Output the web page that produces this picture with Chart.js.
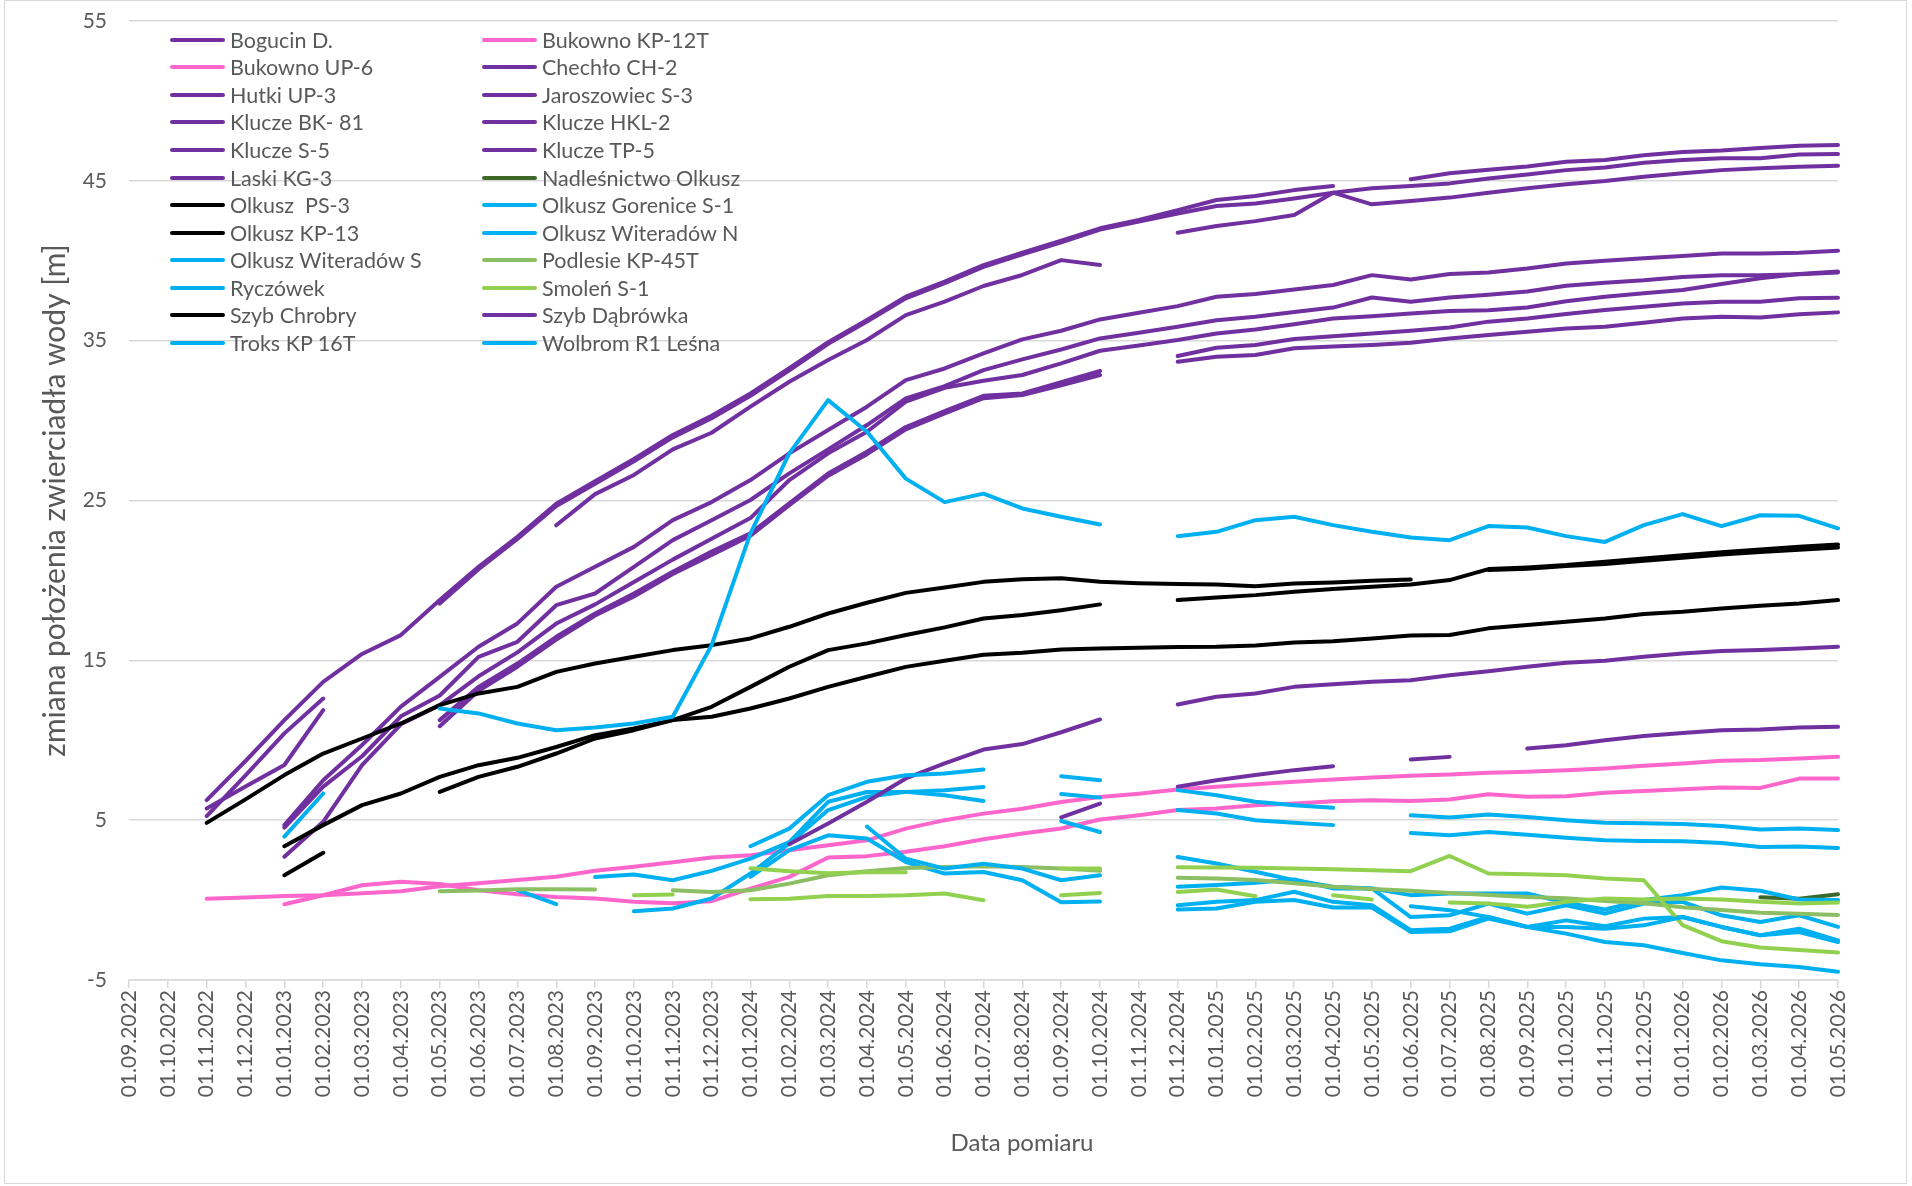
<!DOCTYPE html>
<html lang="pl">
<head>
<meta charset="utf-8">
<title>Zmiana położenia zwierciadła wody</title>
<script src="https://cdn.jsdelivr.net/npm/chart.js@4.4.1/dist/chart.umd.min.js"></script>
<style>
    html, body { margin: 0; padding: 0; background: #fff; }
    #wrap { position: relative; width: 1912px; height: 1186px; font-family: Lato, "Noto Sans", sans-serif; color: #595959; }
    #frame { position: absolute; left: 4px; top: 0; width: 1901px; height: 1182px; border: 1px solid #D9D9D9; pointer-events: none; }
    #legend { position: absolute; left: 170px; top: 26px; display: grid; grid-template-columns: 312px 330px; grid-auto-rows: 27.57px; font-size: 21.5px; }
    .item { display: flex; align-items: center; white-space: pre; }
    .swatch { width: 55px; height: 4px; border-radius: 2px; margin-right: 5px; flex: none; }
    #xtitle { position: absolute; left: 0; width: 2044px; top: 1127px; text-align: center; font-size: 24px; }
</style>
</head>
<body>
<div id="wrap">
    <canvas id="chart" width="1912" height="1186"></canvas>
    <div id="legend"></div>
    <div id="xtitle">Data pomiaru</div>
    <div id="frame"></div>
</div>
<script>
const _ = null; // month without a measurement

const months = [
    "01.09.2022", "01.10.2022", "01.11.2022", "01.12.2022", "01.01.2023", "01.02.2023", "01.03.2023", "01.04.2023",
    "01.05.2023", "01.06.2023", "01.07.2023", "01.08.2023", "01.09.2023", "01.10.2023", "01.11.2023", "01.12.2023",
    "01.01.2024", "01.02.2024", "01.03.2024", "01.04.2024", "01.05.2024", "01.06.2024", "01.07.2024", "01.08.2024",
    "01.09.2024", "01.10.2024", "01.11.2024", "01.12.2024", "01.01.2025", "01.02.2025", "01.03.2025", "01.04.2025",
    "01.05.2025", "01.06.2025", "01.07.2025", "01.08.2025", "01.09.2025", "01.10.2025", "01.11.2025", "01.12.2025",
    "01.01.2026", "01.02.2026", "01.03.2026", "01.04.2026", "01.05.2026"
];

const yTicks = [-5, 5, 15, 25, 35, 45, 55];

// purple wells
const bogucin = [_, _, 6.25, 8.7, 11.26, 13.65, 15.4, 16.58, 18.77, 20.85, 22.73, 24.8, 26.2, 27.6, 29.1, 30.3, 31.7, 33.28, 34.9, 36.3, 37.75, 38.7, 39.73, 40.5, 41.25, 42.03, 42.55, 43.17, 43.8, 44.05, 44.42, 44.67, _, 45.1, 45.47, 45.7, 45.9, 46.2, 46.3, 46.6, 46.8, 46.9, 47.06, 47.2, 47.24];
const chechlo = [_, _, 5.25, 7.8, 10.43, 12.61, _, _, 18.55, 20.7, 22.6, 24.65, 26.05, 27.45, 28.95, 30.15, 31.55, 33.15, 34.8, 36.2, 37.65, 38.6, 39.62, 40.4, 41.15, 41.95, 42.45, 42.96, 43.42, 43.58, 43.9, 44.26, 44.53, 44.67, 44.84, 45.15, 45.4, 45.67, 45.84, 46.13, 46.3, 46.42, 46.42, 46.65, 46.68];
const hutki = [_, _, 5.73, 7.1, 8.45, 11.88, _, _, _, _, _, 23.45, 25.4, 26.6, 28.2, 29.24, 30.87, 32.43, 33.79, 35.04, 36.6, 37.44, 38.42, 39.11, 40.04, 39.73, _, 41.75, 42.17, 42.48, 42.86, 44.26, 43.53, 43.74, 43.95, 44.26, 44.53, 44.78, 44.99, 45.26, 45.47, 45.67, 45.78, 45.88, 45.95];
const jaroszowiec = [_, _, _, _, 4.69, 7.5, 9.7, 12.1, 13.97, 15.85, 17.31, 19.6, 20.85, 22.1, 23.77, 24.9, 26.28, 27.95, 29.41, 30.87, 32.53, 33.26, 34.2, 35.08, 35.62, 36.33, 36.75, 37.16, 37.75, 37.92, 38.2, 38.48, 39.1, 38.83, 39.17, 39.27, 39.52, 39.83, 40.0, 40.15, 40.3, 40.46, 40.46, 40.5, 40.63];
const kluczeBK81 = [_, _, _, _, 4.54, 7.1, 9.0, 11.5, 12.8, 15.22, 16.16, 18.45, 19.18, 20.85, 22.52, 23.77, 25.03, 26.7, 28.2, 29.72, 31.39, 32.16, 33.16, 33.83, 34.45, 35.14, 35.5, 35.87, 36.28, 36.49, 36.8, 37.07, 37.7, 37.43, 37.7, 37.87, 38.07, 38.43, 38.63, 38.78, 38.99, 39.1, 39.1, 39.16, 39.27];
const kluczeHKL2 = [_, _, _, _, 2.71, 4.9, 8.45, 11.0, 12.2, 14.0, 15.5, 17.3, 18.5, 19.9, 21.3, 22.6, 23.9, 26.28, 27.95, 29.3, 31.18, 32.05, 32.49, 32.85, 33.58, 34.37, 34.7, 35.04, 35.45, 35.7, 36.03, 36.39, 36.53, 36.7, 36.85, 36.9, 37.07, 37.47, 37.75, 37.96, 38.17, 38.54, 38.9, 39.17, 39.32];
const kluczeS5 = [_, _, _, _, _, _, _, _, 11.26, 13.34, 14.8, 16.47, 17.93, 19.18, 20.54, 21.8, 22.94, 24.82, 26.69, 28.05, 29.6, 30.6, 31.55, 31.7, 32.4, 33.1, _, 34.04, 34.56, 34.73, 35.1, 35.28, 35.45, 35.62, 35.83, 36.19, 36.39, 36.67, 36.92, 37.12, 37.33, 37.44, 37.44, 37.65, 37.69];
const kluczeTP5 = [_, _, _, _, _, _, _, _, 10.88, 13.1, 14.6, 16.3, 17.8, 19.0, 20.4, 21.6, 22.8, 24.7, 26.55, 27.9, 29.45, 30.45, 31.4, 31.6, 32.2, 32.85, _, 33.68, 34.0, 34.1, 34.52, 34.63, 34.73, 34.87, 35.14, 35.35, 35.56, 35.76, 35.87, 36.12, 36.39, 36.49, 36.45, 36.65, 36.77];
const laski = [_, _, _, _, _, _, _, _, _, _, _, _, _, _, _, _, _, _, _, _, _, _, _, _, 5.17, 6.04, _, 7.09, 7.5, 7.82, 8.13, 8.38, _, 8.8, 8.96, _, 9.48, 9.69, 10.0, 10.26, 10.46, 10.63, 10.67, 10.8, 10.84];
const dabrowka = [_, _, _, _, _, _, _, _, _, _, _, _, _, _, _, _, _, 3.5, 4.79, 6.15, 7.61, 8.55, 9.42, 9.76, 10.5, 11.3, _, 12.24, 12.72, 12.93, 13.34, 13.51, 13.66, 13.76, 14.07, 14.32, 14.6, 14.85, 14.97, 15.22, 15.43, 15.58, 15.64, 15.74, 15.85];

// black wells
const olkuszPS3 = [_, _, 4.83, 6.3, 7.82, 9.17, 10.11, 11.05, 12.2, 12.93, 13.34, 14.28, 14.8, 15.22, 15.64, 15.95, 16.37, 17.1, 17.93, 18.6, 19.22, 19.56, 19.91, 20.08, 20.14, 19.91, 19.83, 19.77, 19.75, 19.64, 19.81, 19.87, 19.98, 20.06, _, 20.65, 20.73, 20.9, 21.02, 21.23, 21.41, 21.62, 21.77, 21.92, 22.06];
const olkuszKP13 = [_, _, _, _, 3.37, 4.69, 5.94, 6.67, 7.71, 8.44, 8.9, 9.58, 10.32, 10.74, 11.26, 12.09, 13.34, 14.6, 15.64, 16.06, 16.58, 17.06, 17.62, 17.83, 18.14, 18.5, _, 18.77, 18.93, 19.08, 19.29, 19.46, 19.6, 19.75, 20.02, 20.71, 20.81, 20.96, 21.17, 21.37, 21.58, 21.77, 21.94, 22.1, 22.25];
const szybChrobry = [_, _, _, _, 1.56, 2.96, _, _, 6.77, 7.71, 8.34, 9.17, 10.11, 10.63, 11.26, 11.47, 11.99, 12.61, 13.34, 13.97, 14.59, 14.97, 15.35, 15.47, 15.68, 15.74, 15.78, 15.83, 15.85, 15.93, 16.12, 16.2, 16.37, 16.56, 16.58, 17.0, 17.21, 17.41, 17.62, 17.9, 18.04, 18.25, 18.42, 18.56, 18.77];

// pink wells
const bukownoKP12T = [_, _, 0.08, 0.16, 0.25, 0.3, 0.42, 0.55, 0.86, 1.05, 1.25, 1.46, 1.84, 2.09, 2.36, 2.66, 2.8, 3.12, 3.43, 3.74, 4.47, 5.0, 5.41, 5.72, 6.14, 6.45, 6.66, 6.92, 7.09, 7.24, 7.4, 7.55, 7.67, 7.78, 7.86, 7.96, 8.03, 8.13, 8.24, 8.4, 8.55, 8.72, 8.76, 8.86, 8.97];
const bukownoUP6 = [_, _, _, _, -0.26, 0.3, 0.93, 1.14, 1.0, 0.62, 0.37, 0.2, 0.1, -0.1, -0.2, -0.07, 0.72, 1.45, 2.66, 2.75, 3.02, 3.37, 3.81, 4.17, 4.48, 5.04, 5.31, 5.63, 5.73, 5.94, 6.04, 6.19, 6.25, 6.2, 6.29, 6.62, 6.46, 6.5, 6.71, 6.83, 6.93, 7.04, 7.02, 7.6, 7.6];

// light blue wells
const troks = [_, _, _, _, 3.97, 6.67, _, _, 11.99, 11.68, 11.05, 10.63, 10.8, 11.05, 11.47, 15.95, 22.94, 27.95, 31.28, 29.3, 26.37, 24.9, 25.43, 24.5, 23.98, 23.5, _, 22.77, 23.04, 23.77, 23.98, 23.46, 23.04, 22.68, 22.52, 23.4, 23.31, 22.77, 22.41, 23.46, 24.15, 23.4, 24.08, 24.04, 23.25];
const wolbrom = [_, _, _, _, _, _, _, _, _, _, _, _, _, _, _, _, 3.37, 4.47, 6.56, 7.4, 7.81, 7.92, 8.17, _, 7.75, 7.5, _, 6.88, 6.56, 6.15, 5.94, 5.77, _, 5.3, 5.16, 5.36, 5.2, 5.0, 4.84, 4.8, 4.76, 4.63, 4.42, 4.48, 4.38];
const witeradowN = [_, _, _, _, _, _, _, _, _, _, _, _, 1.45, 1.6, 1.24, 1.83, 2.59, 3.63, 6.15, 6.76, 6.76, 6.87, 7.07, _, 6.63, 6.41, _, 5.63, 5.42, 5.0, 4.84, 4.69, _, 4.2, 4.05, 4.26, 4.09, 3.9, 3.74, 3.7, 3.68, 3.57, 3.32, 3.36, 3.26];
const gorenice = [_, _, _, _, _, _, _, _, _, _, _, _, _, -0.7, -0.53, 0.1, 1.66, 3.54, 5.63, 6.46, 6.77, 6.56, 6.2, _, 4.95, 4.26, _, 2.7, 2.29, 1.77, 1.25, 0.84, 0.73, 0.31, 0.41, 0.41, 0.41, -0.17, -0.59, 0.0, 0.31, 0.79, 0.58, 0.04, 0.0];
const witeradowS = [_, _, _, _, _, _, _, _, _, _, 0.62, -0.26, _, _, _, _, 1.45, 3.12, 4.05, 3.85, 2.38, 1.66, 1.76, 1.24, -0.13, -0.09, _, 0.84, 0.94, 1.08, 1.29, 0.73, 0.73, -1.06, -0.95, -0.22, -0.85, -0.32, -0.85, -0.22, -0.11, -0.95, -1.37, -0.95, -1.68];
const ryczowek = [_, _, _, _, _, _, _, _, _, _, _, _, _, _, _, _, _, _, _, 4.6, 2.59, 1.97, 2.28, 1.97, 1.24, 1.55, _, -0.32, -0.11, 0.0, 0.52, -0.11, -0.32, -1.89, -1.79, -1.06, -1.68, -1.27, -1.64, -1.16, -1.06, -1.68, -2.2, -1.79, -2.52];
// lines on the chart that have no entry in its (cut off) legend
const unlistedBlue1 = [_, _, _, _, _, _, _, _, _, _, _, _, _, _, _, _, _, _, _, _, _, _, _, _, _, _, _, -0.59, -0.53, -0.11, 0.0, -0.46, -0.46, -1.99, -1.95, -1.16, -1.68, -1.68, -1.79, -1.58, -1.06, -1.68, -2.2, -2.0, -2.62];
const unlistedBlue2 = [_, _, _, _, _, _, _, _, _, _, _, _, _, _, _, _, _, _, _, _, _, _, _, _, _, _, _, _, _, _, _, _, _, -0.38, -0.63, -1.06, -1.68, -2.1, -2.62, -2.83, -3.31, -3.77, -4.02, -4.18, -4.49];

// green wells
const nadlesnictwo = [_, _, _, _, _, _, _, _, _, _, _, _, _, _, _, _, _, _, _, _, _, _, _, _, _, _, _, _, _, _, _, _, _, _, _, _, _, _, _, _, _, _, 0.18, 0.08, 0.37];
const podlesie = [_, _, _, _, _, _, _, _, 0.56, 0.6, 0.68, 0.68, 0.66, _, 0.62, 0.51, 0.62, 1.03, 1.55, 1.8, 2.01, 2.07, 2.12, 2.07, 1.97, 1.83, _, 1.4, 1.35, 1.25, 1.05, 0.84, 0.7, 0.59, 0.45, 0.32, 0.2, 0.11, -0.05, -0.2, -0.45, -0.62, -0.79, -0.86, -0.93];
const smolen = [_, _, _, _, _, _, _, _, _, _, _, _, _, _, _, _, 1.99, 1.81, 1.68, 1.74, 1.74, _, _, _, 1.97, 1.97, _, 2.06, 2.04, 2.02, 1.98, 1.93, 1.87, 1.81, 2.76, 1.66, 1.62, 1.56, 1.35, 1.24, -1.57, -2.57, -2.97, -3.13, -3.28];
const unlistedGreen = [_, _, _, _, _, _, _, _, _, _, _, _, _, 0.3, 0.35, _, 0.05, 0.09, 0.26, 0.26, 0.3, 0.41, -0.01, _, 0.3, 0.45, _, 0.51, 0.66, 0.24, _, 0.3, 0.03, _, -0.15, -0.22, -0.42, -0.11, 0.1, 0.03, 0.1, 0.03, -0.11, -0.22, -0.15];

const PURPLE = "#7030A0";
const PINK = "#FF66CC";
const BLACK = "#000000";
const BLUE = "#00B0F0";
const GREEN = "#92D050";
const GREEN_MUTED = "#8CBE64";
const GREEN_DARK = "#3E682A";
const TEXT = "#595959";
const GRID = "#D9D9D9";
const FONT = "Lato, 'Noto Sans', sans-serif";

const series = [
    { name: "Bogucin D.", color: PURPLE, data: bogucin },
    { name: "Bukowno KP-12T", color: PINK, data: bukownoKP12T },
    { name: "Bukowno UP-6", color: PINK, data: bukownoUP6 },
    { name: "Chechło CH-2", color: PURPLE, data: chechlo },
    { name: "Hutki UP-3", color: PURPLE, data: hutki },
    { name: "Jaroszowiec S-3", color: PURPLE, data: jaroszowiec },
    { name: "Klucze BK- 81", color: PURPLE, data: kluczeBK81 },
    { name: "Klucze HKL-2", color: PURPLE, data: kluczeHKL2 },
    { name: "Klucze S-5", color: PURPLE, data: kluczeS5 },
    { name: "Klucze TP-5", color: PURPLE, data: kluczeTP5 },
    { name: "Laski KG-3", color: PURPLE, data: laski },
    { name: "Nadleśnictwo Olkusz", color: GREEN_DARK, data: nadlesnictwo },
    { name: "Olkusz  PS-3", color: BLACK, data: olkuszPS3 },
    { name: "Olkusz Gorenice S-1", color: BLUE, data: gorenice },
    { name: "Olkusz KP-13", color: BLACK, data: olkuszKP13 },
    { name: "Olkusz Witeradów N", color: BLUE, data: witeradowN },
    { name: "Olkusz Witeradów S", color: BLUE, data: witeradowS },
    { name: "Podlesie KP-45T", color: GREEN_MUTED, data: podlesie },
    { name: "Ryczówek", color: BLUE, data: ryczowek },
    { name: "Smoleń S-1", color: GREEN, data: smolen },
    { name: "Szyb Chrobry", color: BLACK, data: szybChrobry },
    { name: "Szyb Dąbrówka", color: PURPLE, data: dabrowka },
    { name: "Troks KP 16T", color: BLUE, data: troks },
    { name: "Wolbrom R1 Leśna", color: BLUE, data: wolbrom },
    { name: null, color: BLUE, data: unlistedBlue1 },
    { name: null, color: BLUE, data: unlistedBlue2 },
    { name: null, color: GREEN, data: unlistedGreen }
];

function renderLegend(list) {
    return list.filter(s => s.name).map(s => `
        <div class="item"><span class="swatch" style="background:${s.color}"></span>${s.name}</div>
    `).join("");
}

document.getElementById("legend").innerHTML = renderLegend(series);

const ctx = document.getElementById("chart").getContext("2d");
new Chart(ctx, {
    type: "line",
    data: {
        labels: months,
        datasets: series.map((s, i) => ({
            label: s.name || "",
            data: s.data,
            borderColor: s.color,
            backgroundColor: s.color,
            borderWidth: 4,
            pointRadius: 0,
            tension: 0,
            spanGaps: false,
            borderCapStyle: "round",
            borderJoinStyle: "round",
            order: -i // later series on top, like the spreadsheet
        }))
    },
    options: {
        responsive: false,
        animation: false,
        layout: { padding: { top: 21, right: 74, left: 0, bottom: 0 } },
        plugins: {
            legend: { display: false },
            tooltip: { enabled: false }
        },
        scales: {
            x: {
                offset: false,
                grid: { drawOnChartArea: false, drawTicks: true, tickLength: 8, color: GRID, lineWidth: 1.5 },
                border: { color: GRID, width: 1.5 },
                ticks: { autoSkip: false, maxRotation: 90, minRotation: 90, padding: 2, color: TEXT, font: { family: FONT, size: 21 } },
                afterFit: axis => { axis.height = 206; }
            },
            y: {
                min: yTicks[0],
                max: yTicks[yTicks.length - 1],
                afterBuildTicks: axis => { axis.ticks = yTicks.map(v => ({ value: v })); },
                grid: { color: GRID, lineWidth: 1.5, drawTicks: false },
                border: { display: false },
                ticks: { padding: 22, color: TEXT, font: { family: FONT, size: 21 } },
                title: {
                    display: true,
                    text: "zmiana położenia zwierciadła wody [m]",
                    color: TEXT,
                    font: { family: FONT, size: 30 },
                    padding: { top: 37, bottom: 0 }
                },
                afterFit: axis => {
                    axis.width = 129;
                    // label padding would otherwise push the plot top down
                    axis.paddingTop = 0;
                    axis.paddingBottom = 0;
                }
            }
        }
    }
});
</script>
</body>
</html>
